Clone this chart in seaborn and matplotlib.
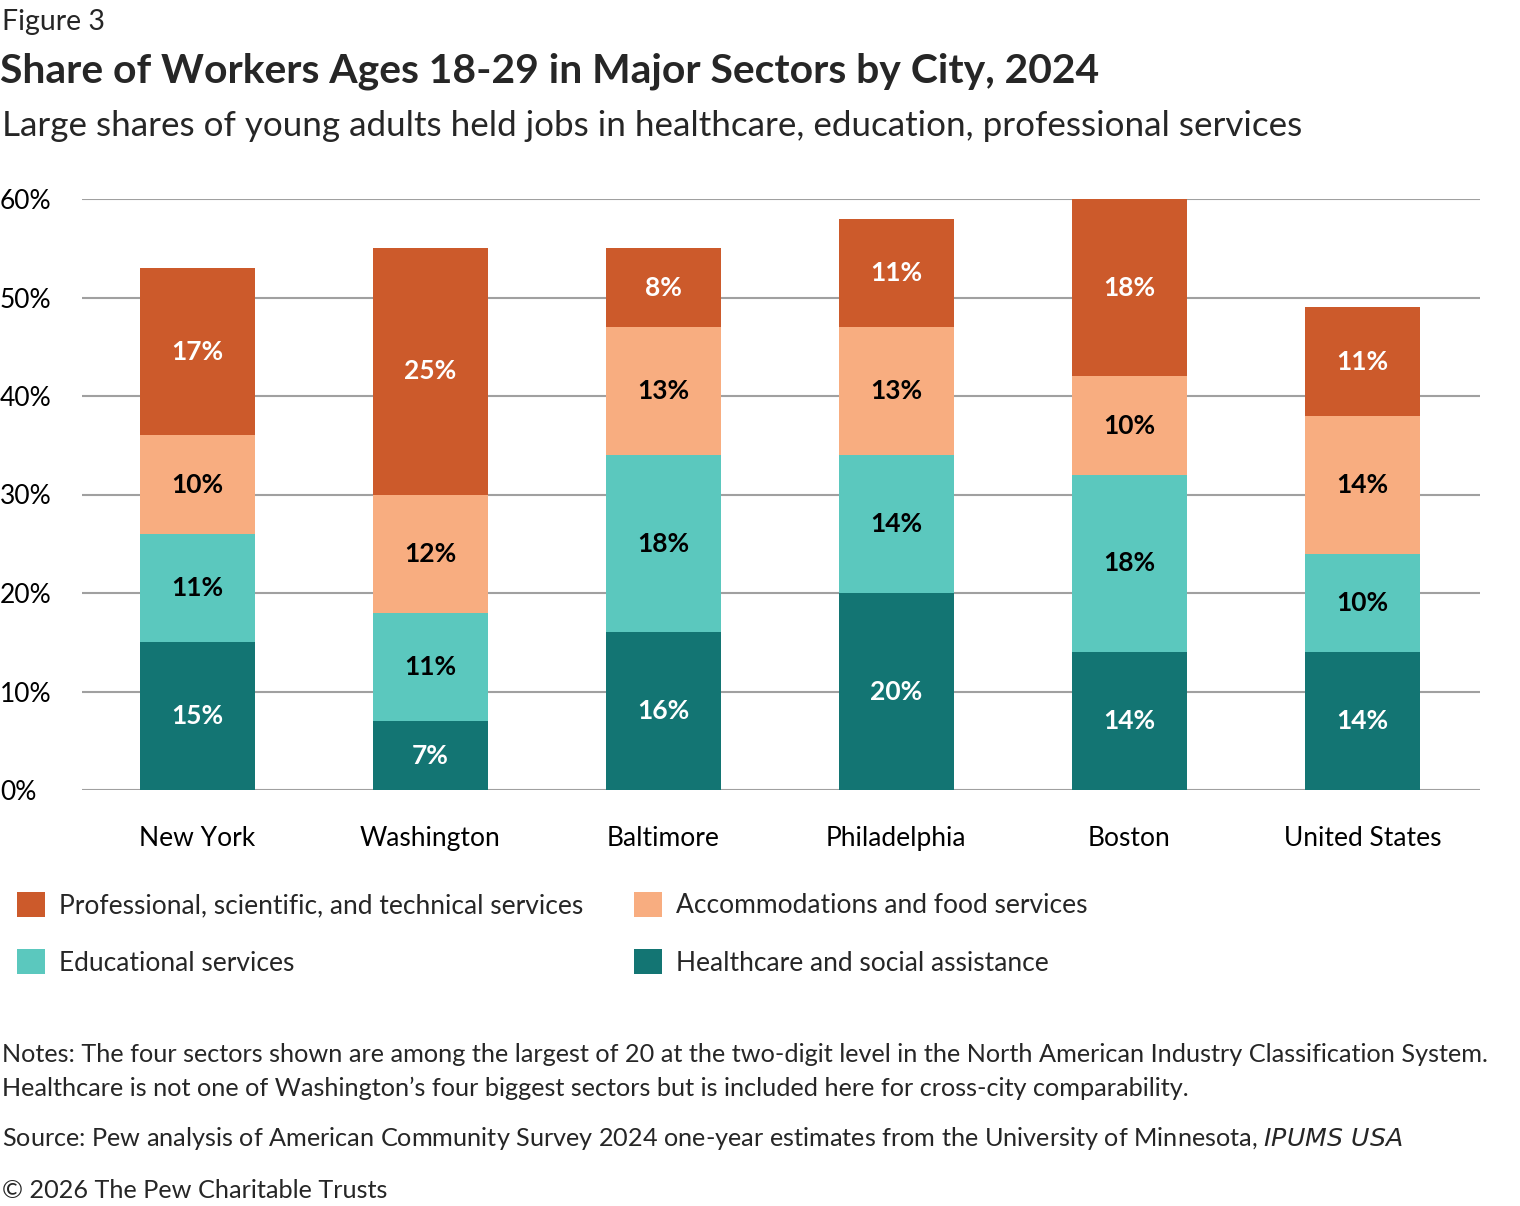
import numpy as np
import pandas as pd
import matplotlib.pyplot as plt
import seaborn as sns
from matplotlib.patches import Patch

# Data
cities = ["New York", "Washington", "Baltimore", "Philadelphia", "Boston", "United States"]
healthcare = [15, 7, 16, 20, 14, 14]
educational = [11, 11, 18, 14, 18, 10]
accommodation = [10, 12, 13, 13, 10, 14]
professional = [17, 25, 8, 11, 18, 11]

sectors = ["Healthcare and social assistance", "Educational services",
           "Accommodations and food services",
           "Professional, scientific, and technical services"]
colors = ["#137573", "#5BC8BE", "#F8AD80", "#CC5A2B"]
label_colors = ["white", "black", "black", "white"]

sns.set_theme(style="white")
plt.rcParams["font.family"] = ["Lato", "DejaVu Sans"]

df = pd.DataFrame({"city": cities, sectors[0]: healthcare, sectors[1]: educational,
                   sectors[2]: accommodation, sectors[3]: professional})
cum = df[sectors].cumsum(axis=1)

fig = plt.figure(figsize=(15.2, 12.06), dpi=100)
ax = fig.add_axes([82 / 1520, 1 - 790 / 1206, 1398 / 1520, 591 / 1206])

# stacked bars: draw tallest cumulative first
for i in range(3, -1, -1):
    sns.barplot(x=df["city"], y=cum[sectors[i]], color=colors[i], width=0.495,
                saturation=1, linewidth=0, ax=ax, zorder=3)

# segment labels
for i, s in enumerate(sectors):
    for j in range(len(cities)):
        v = df[s][j]
        mid = cum[s][j] - v / 2
        ax.text(j, mid, f"{v}%", ha="center", va="center", fontsize=19,
                fontweight="bold", color=label_colors[i], zorder=4)

ax.set_ylim(0, 60)
ax.set_xlim(-0.495, 5.505)
ax.set_yticks(range(0, 61, 10))
ax.set_yticklabels([f"{t}%" for t in range(0, 61, 10)])
ax.yaxis.grid(True, color="#A0A0A0", linewidth=1.5, zorder=0)
ax.set_axisbelow(True)
for sp in ax.spines.values():
    sp.set_visible(False)
ax.set_xlabel("")
ax.set_ylabel("")
ax.tick_params(axis="y", labelsize=19, pad=0, length=0, labelcolor="black")
ax.tick_params(axis="x", labelsize=19, pad=26, length=0, labelcolor="black")
for lab in ax.get_yticklabels():
    lab.set_horizontalalignment("left")
    lab.set_x(-82 / 1398)

# legend
order = [3, 1, 2, 0]
handles = [Patch(facecolor=colors[k], edgecolor="none", label=sectors[k]) for k in order]
fig.legend(handles=handles, ncol=2, loc="upper left", bbox_to_anchor=(0.011, 1 - 892 / 1206),
           frameon=False, fontsize=19, handlelength=1.06, handleheight=1.06,
           handletextpad=0.55, columnspacing=1.9, labelspacing=1.17, borderaxespad=0,
           borderpad=0)

# titles
fig.text(0.001, 1 - 22 / 1206, "Figure 3", fontsize=20.5, va="center", ha="left")
fig.text(0.0, 1 - 71 / 1206, "Share of Workers Ages 18-29 in Major Sectors by City, 2024",
         fontsize=29.4, fontweight="bold", va="center", ha="left")
fig.text(0.001, 1 - 126 / 1206,
         "Large shares of young adults held jobs in healthcare, education, professional services",
         fontsize=25.2, va="center", ha="left")

# notes
fig.text(0.001, 1 - 1055 / 1206,
         "Notes: The four sectors shown are among the largest of 20 at the two-digit level in the North American Industry Classification System.",
         fontsize=18.2, va="center", ha="left")
fig.text(0.001, 1 - 1088 / 1206,
         "Healthcare is not one of Washington\u2019s four biggest sectors but is included here for cross-city comparability.",
         fontsize=18.2, va="center", ha="left")
fig.text(0.001, 1 - 1139 / 1206,
         "Source: Pew analysis of American Community Survey 2024 one-year estimates from the University of Minnesota, $\\it{IPUMS\\ USA}$",
         fontsize=18.2, va="center", ha="left")
fig.text(0.001, 1 - 1190 / 1206, "\u00a9 2026 The Pew Charitable Trusts",
         fontsize=18.2, va="center", ha="left")

fig.savefig("out.png", dpi=100)
